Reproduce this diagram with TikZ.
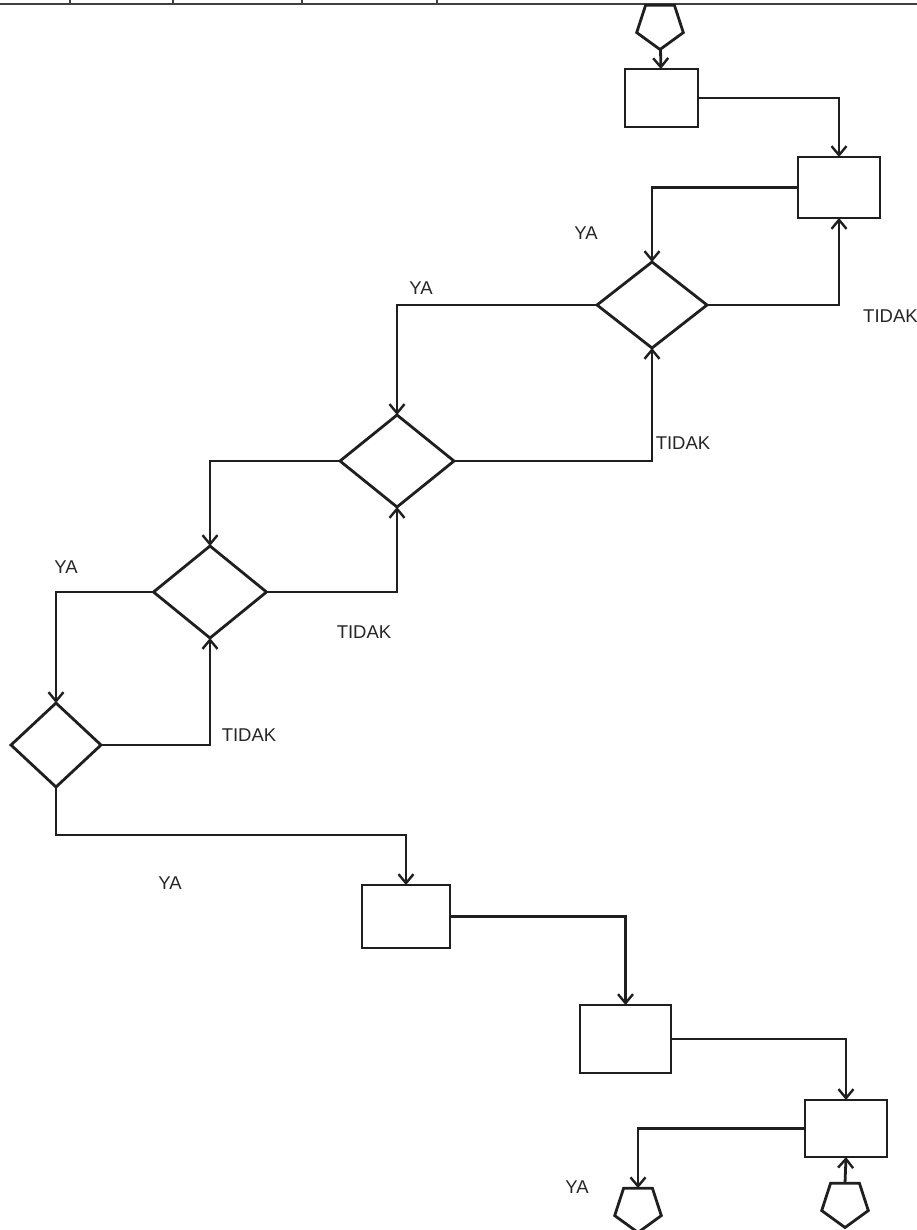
\documentclass[tikz,border=0pt]{standalone}
\usepackage{fontspec}
\setmainfont{Liberation Sans}
\usetikzlibrary{shapes.geometric,arrows.meta}
\tikzset{
  ln/.style={line width=2.8pt, draw=black!88},
  conn/.style={ln, -{Straight Barb[length=9pt,width=15pt,line width=2.4pt]}},
  procbox/.style={rectangle, ln, inner sep=0pt, outer sep=0pt},
  decision/.style={diamond, ln, inner sep=0pt, outer sep=0pt},
  offpage/.style={regular polygon, regular polygon sides=5, shape border rotate=180, ln, minimum size=49pt, inner sep=0pt, outer sep=0pt},
  lbl/.style={font=\fontsize{18.5}{20}\selectfont, text=black!85, inner sep=0pt}
}
\begin{document}
\begin{tikzpicture}[x=1pt,y=-1pt]
\useasboundingbox[fill=white] (0,0) rectangle (917,1230);

% top border of the table
\draw[line width=2pt, black!75] (0,4) coordinate (tl) -- (917,4) coordinate (tr);
\foreach \xx in {70,173,302,437} \draw[line width=1.4pt, black!75] (\xx,0) -- (\xx,4);

% nodes
\node[offpage] (p1) at (660,25) {};
\node[procbox, minimum width=73pt, minimum height=58pt] (b1) at (661.5,98) {};
\node[procbox, minimum width=82pt, minimum height=61pt] (b2) at (839,187.5) {};
\node[decision, minimum width=110pt, minimum height=86pt] (d1) at (652,305) {};
\node[decision, minimum width=114pt, minimum height=92pt] (d2) at (397,461) {};
\node[decision, minimum width=113pt, minimum height=92pt] (d3) at (210,592) {};
\node[decision, minimum width=90pt, minimum height=84pt] (d4) at (56,745) {};
\node[procbox, minimum width=88pt, minimum height=63pt] (b3) at (406,916.5) {};
\node[procbox, minimum width=91pt, minimum height=68pt] (b4) at (625.5,1039) {};
\node[procbox, minimum width=82pt, minimum height=57pt] (b5) at (846,1128.5) {};
\node[offpage] (p2) at (638,1208) {};
\node[offpage] (p3) at (845,1203) {};
\coordinate (c1) at (56,835);

% connectors
\draw[conn] (p1) -- (b1);
\draw[conn] (b1.east) -| (b2.north);
\draw[conn] (b2.west) -| (d1.north);
\draw[conn] (d1.east) -| (b2.south);
\draw[conn] (d1.west) -| (d2.north);
\draw[conn] (d2.east) -| (d1.south);
\draw[conn] (d2.west) -| (d3.north);
\draw[conn] (d3.east) -| (d2.south);
\draw[conn] (d3.west) -| (d4.north);
\draw[conn] (d4.east) -| (d3.south);
\draw[conn] (d4.south) -- (c1) -| (b3.north);
\draw[conn] (b3.east) -| (b4.north);
\draw[conn] (b4.east) -| (b5.north);
\draw[conn] (b5.west) -| (p2.north);
\draw[conn] (p3.north) -- (b5.south);

% labels
\node[lbl] (l1) at (586,233) {YA};
\node[lbl] (l2) at (421,288) {YA};
\node[lbl, anchor=west] (l3) at (863,316) {TIDAK};
\node[lbl] (l4) at (683,443) {TIDAK};
\node[lbl] (l5) at (66,567) {YA};
\node[lbl] (l6) at (364,632) {TIDAK};
\node[lbl] (l7) at (249,735) {TIDAK};
\node[lbl] (l8) at (170,883) {YA};
\node[lbl] (l9) at (577,1187) {YA};
\end{tikzpicture}
\end{document}
